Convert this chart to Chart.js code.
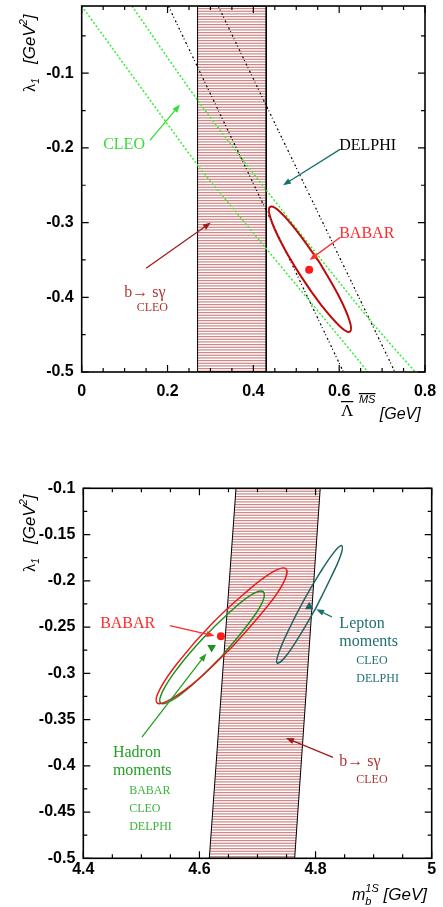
<!DOCTYPE html>
<html>
<head>
<meta charset="utf-8">
<title>lambda_1 constraints</title>
<script src="https://cdn.jsdelivr.net/npm/chart.js@4.4.1/dist/chart.umd.min.js"></script>
<style>
html, body { margin: 0; padding: 0; background: #fff; }
canvas { position: absolute; left: 0; }
</style>
</head>
<body>
<canvas id="topPanel" width="443" height="440" style="top:0"></canvas>
<canvas id="bottomPanel" width="443" height="467" style="top:440px"></canvas>
<script>
// ---------- top panel: lambda1 vs Lambda-bar (MS-bar) ----------
const topXTicks = [0, 0.2, 0.4, 0.6, 0.8];
const topYTicks = [-0.5, -0.4, -0.3, -0.2, -0.1];
const topXRange = [0, 0.8];
const topYRange = [-0.5, -0.01];

const bsgBandTopX = [0.27, 0.27, 0.43, 0.43, 0.27];
const bsgBandTopY = [-0.5, -0.01, -0.01, -0.5, -0.5];

const cleoLoX = [0, 0.270, 0.318, 0.606, 0.667];
const cleoLoY = [-0.01, -0.223, -0.257, -0.457, -0.5];
const cleoHiX = [0.117, 0.270, 0.431, 0.668, 0.777];
const cleoHiY = [-0.01, -0.136, -0.257, -0.428, -0.5];

const delphiLoX = [0.202, 0.610];
const delphiLoY = [-0.01, -0.5];
const delphiHiX = [0.318, 0.730];
const delphiHiY = [-0.01, -0.5];

// contour points read around the ellipse, starting on its long side
const babarTopX = [0.555, 0.505, 0.463, 0.439, 0.440, 0.466, 0.510, 0.559, 0.602, 0.625, 0.624, 0.598, 0.555];
const babarTopY = [-0.354, -0.314, -0.286, -0.279, -0.294, -0.328, -0.371, -0.411, -0.439, -0.446, -0.431, -0.397, -0.354];
const babarTopPoint = [0.530, -0.363];

// ---------- bottom panel: lambda1 vs m_b(1S) ----------
const botXTicks = [4.4, 4.6, 4.8, 5];
const botYTicks = [-0.5, -0.45, -0.4, -0.35, -0.3, -0.25, -0.2, -0.15, -0.1];
const botXRange = [4.4, 5];
const botYRange = [-0.5, -0.1];

const bsgBandBotX = [4.617, 4.663, 4.808, 4.764, 4.617];
const bsgBandBotY = [-0.5, -0.1, -0.1, -0.5, -0.5];

const hadBabarX = [4.657, 4.599, 4.551, 4.527, 4.532, 4.566, 4.619, 4.677, 4.725, 4.749, 4.744, 4.710, 4.657];
const hadBabarY = [-0.271, -0.306, -0.328, -0.332, -0.317, -0.286, -0.248, -0.214, -0.191, -0.187, -0.203, -0.233, -0.271];
const hadAllX = [4.638, 4.592, 4.553, 4.533, 4.537, 4.563, 4.605, 4.652, 4.690, 4.710, 4.707, 4.680, 4.638];
const hadAllY = [-0.282, -0.310, -0.329, -0.332, -0.319, -0.294, -0.263, -0.234, -0.215, -0.212, -0.225, -0.250, -0.282];
const leptonX = [4.800, 4.771, 4.747, 4.734, 4.736, 4.753, 4.779, 4.808, 4.832, 4.845, 4.843, 4.826, 4.800];
const leptonY = [-0.230, -0.261, -0.283, -0.289, -0.279, -0.254, -0.222, -0.191, -0.169, -0.162, -0.173, -0.197, -0.230];

const babarBotPoint = [4.637, -0.260];
const hadronPoint = [4.621, -0.272];
const leptonPoint = [4.789, -0.228];

const SERIF = '"Liberation Serif", "Times New Roman", serif';
const SANS = '"Liberation Sans", Arial, sans-serif';

function xy(xs, ys) {
    return xs.map((x, i) => ({ x: x, y: ys[i] }));
}

function hatch() {
    const c = document.createElement('canvas');
    c.width = 8; c.height = 8;
    const g = c.getContext('2d');
    g.fillStyle = '#fff';
    g.fillRect(0, 0, 8, 8);
    g.fillStyle = '#cf8585';
    for (let i = 0; i < 3; i++) g.fillRect(0, i * 8 / 3, 8, 1.2);
    return g.createPattern(c, 'repeat');
}

function curve(xs, ys, color, width, dash, tension) {
    return {
        data: xy(xs, ys), borderColor: color, borderWidth: width, borderDash: dash || [],
        pointRadius: 0, tension: tension || 0, fill: false, order: 5
    };
}

function band(xs, ys) {
    return {
        data: xy(xs, ys), borderColor: '#000', borderWidth: 1, pointRadius: 0,
        fill: 'shape', backgroundColor: hatch(), order: 10
    };
}

function marker(p, style, color, r, rot) {
    return {
        data: [{ x: p[0], y: p[1] }], showLine: false, pointStyle: style, pointRadius: r,
        pointRotation: rot || 0, pointBackgroundColor: color, pointBorderColor: color,
        pointBorderWidth: 0, order: 0
    };
}

function axes(xr, yr, xt, yt, yWidth, xHeight, xPad) {
    const font = { family: SANS, size: 16, weight: 'bold' };
    return {
        x: {
            type: 'linear', min: xr[0], max: xr[1],
            grid: { display: false, drawTicks: false }, border: { display: false },
            ticks: { font: font, color: '#000', padding: xPad, maxRotation: 0, autoSkip: false, callback: v => String(v) },
            afterBuildTicks: s => { s.ticks = xt.map(v => ({ value: v })); },
            afterFit: s => { s.height = xHeight; s.paddingLeft = 0; s.paddingRight = 0; }
        },
        y: {
            type: 'linear', min: yr[0], max: yr[1],
            grid: { display: false, drawTicks: false }, border: { display: false },
            ticks: { font: font, color: '#000', padding: 8, autoSkip: false, callback: v => String(v) },
            afterBuildTicks: s => { s.ticks = yt.map(v => ({ value: v })); },
            afterFit: s => { s.width = yWidth; s.paddingTop = 0; s.paddingBottom = 0; }
        }
    };
}

// text made of pieces (sub/superscripts, overlines)
function rich(ctx, x, y, parts, rot) {
    ctx.save();
    ctx.translate(x, y);
    if (rot) ctx.rotate(rot);
    ctx.textAlign = 'left';
    ctx.textBaseline = 'alphabetic';
    let cx = 0;
    parts.forEach(p => {
        ctx.font = p.f;
        ctx.fillStyle = p.c || '#000';
        const w = ctx.measureText(p.t).width;
        ctx.fillText(p.t, cx, p.dy || 0);
        if (p.bar) ctx.fillRect(cx, (p.dy || 0) - p.bar, w, 1.2);
        if (!p.stack) cx += w;
    });
    ctx.restore();
}

function arrow(ctx, chart, a, color) {
    const sx = chart.scales.x, sy = chart.scales.y;
    const x1 = sx.getPixelForValue(a[0]), y1 = sy.getPixelForValue(a[1]);
    const x2 = sx.getPixelForValue(a[2]), y2 = sy.getPixelForValue(a[3]);
    const ang = Math.atan2(y2 - y1, x2 - x1), L = 8, W = 3;
    const c = Math.cos(ang), s = Math.sin(ang);
    ctx.strokeStyle = color;
    ctx.fillStyle = color;
    ctx.lineWidth = 1.3;
    ctx.beginPath();
    ctx.moveTo(x1, y1);
    ctx.lineTo(x2 - L * 0.7 * c, y2 - L * 0.7 * s);
    ctx.stroke();
    ctx.beginPath();
    ctx.moveTo(x2, y2);
    ctx.lineTo(x2 - L * c + W * s, y2 - L * s - W * c);
    ctx.lineTo(x2 - L * c - W * s, y2 - L * s + W * c);
    ctx.closePath();
    ctx.fill();
}

function steps(lo, hi, st) {
    const out = [];
    for (let v = lo; v <= hi + 1e-9; v += st) out.push(+v.toFixed(4));
    return out;
}

function decor(p) {
    return {
        id: 'decor',
        afterDraw(chart) {
            const ctx = chart.ctx, a = chart.chartArea, sx = chart.scales.x, sy = chart.scales.y;
            const isMajor = (v, list) => list.some(t => Math.abs(t - v) < 1e-6);
            ctx.save();
            ctx.strokeStyle = '#000';
            ctx.lineWidth = 1.2;
            ctx.beginPath();
            p.xMinor.forEach(v => {
                const X = sx.getPixelForValue(v), L = isMajor(v, p.xTicks) ? 7 : 4;
                ctx.moveTo(X, a.bottom); ctx.lineTo(X, a.bottom - L);
                ctx.moveTo(X, a.top); ctx.lineTo(X, a.top + L);
            });
            p.yMinor.forEach(v => {
                const Y = sy.getPixelForValue(v), L = isMajor(v, p.yTicks) ? 7 : 4;
                ctx.moveTo(a.left, Y); ctx.lineTo(a.left + L, Y);
                ctx.moveTo(a.right, Y); ctx.lineTo(a.right - L, Y);
            });
            ctx.stroke();
            ctx.lineWidth = 1.6;
            ctx.strokeRect(a.left, a.top, a.right - a.left, a.bottom - a.top);

            p.arrows.forEach(ar => arrow(ctx, chart, ar.a, ar.c));
            ctx.textAlign = 'left';
            ctx.textBaseline = 'alphabetic';
            p.notes.forEach(n => {
                ctx.font = n.f;
                ctx.fillStyle = n.c;
                ctx.fillText(n.t, sx.getPixelForValue(n.x), sy.getPixelForValue(n.y));
            });
            p.titles(ctx);
            ctx.restore();
        }
    };
}

function makeChart(id, datasets, scales, pad, p) {
    return new Chart(document.getElementById(id), {
        type: 'line',
        data: { datasets: datasets },
        options: {
            responsive: false, animation: false, devicePixelRatio: 1, events: [],
            layout: { padding: pad },
            scales: scales,
            plugins: { legend: { display: false }, tooltip: { enabled: false } }
        },
        plugins: [decor(p)]
    });
}

const big = '16px ' + SERIF, small = '12px ' + SERIF;

// ----- top chart -----
makeChart('topPanel', [
    band(bsgBandTopX, bsgBandTopY),
    curve(cleoLoX, cleoLoY, '#33ee33', 1.5, [2, 2], 0.3),
    curve(cleoHiX, cleoHiY, '#33ee33', 1.5, [2, 2], 0.3),
    curve(delphiLoX, delphiLoY, '#000', 1.2, [2, 2, 1, 3]),
    curve(delphiHiX, delphiHiY, '#000', 1.2, [2, 2, 1, 3]),
    Object.assign(curve(babarTopX, babarTopY, '#c00a0a', 2, null, 0.4), { order: 3 }),
    marker(babarTopPoint, 'circle', '#ff1a1a', 4)
], axes(topXRange, topYRange, topXTicks, topYTicks, 81.7, 68, 10),
    { left: 0, top: 6, right: 18, bottom: 0 },
    {
        xTicks: topXTicks, yTicks: topYTicks,
        xMinor: steps(0, 0.8, 0.05), yMinor: steps(-0.5, -0.05, 0.05),
        arrows: [
            { a: [0.159, -0.190, 0.229, -0.142], c: '#33dd33' },
            { a: [0.602, -0.202, 0.469, -0.250], c: '#1a6e6e' },
            { a: [0.602, -0.320, 0.531, -0.350], c: '#ff2a2a' },
            { a: [0.150, -0.361, 0.301, -0.300], c: '#a01c1c' }
        ],
        notes: [
            { t: 'CLEO', x: 0.050, y: -0.202, c: '#33dd33', f: big },
            { t: 'DELPHI', x: 0.600, y: -0.203, c: '#000', f: big },
            { t: 'BABAR', x: 0.600, y: -0.321, c: '#ff2a2a', f: big },
            { t: 'b\u2192 s\u03b3', x: 0.099, y: -0.400, c: '#b03333', f: big },
            { t: 'CLEO', x: 0.128, y: -0.419, c: '#b03333', f: small }
        ],
        titles: ctx => {
            rich(ctx, 35, 92, [
                { t: '\u03bb', f: '17px ' + SERIF },
                { t: '1', f: 'italic 10px ' + SANS, dy: 4 },
                { t: '   [GeV', f: 'italic 17px ' + SANS },
                { t: '2', f: 'italic 11px ' + SANS, dy: -8 },
                { t: ']', f: 'italic 17px ' + SANS }
            ], -Math.PI / 2);
            rich(ctx, 341, 416, [
                { t: '\u039b', f: '17px ' + SERIF, bar: 15 },
                { t: '  ', f: '10px ' + SANS },
                { t: 'MS', f: 'italic 11px ' + SANS, dy: -13, bar: 10 },
                { t: ' ', f: '16px ' + SANS },
                { t: '[GeV]', f: 'italic 16px ' + SANS, dy: 3 }
            ]);
        }
    });

// ----- bottom chart -----
makeChart('bottomPanel', [
    band(bsgBandBotX, bsgBandBotY),
    Object.assign(curve(hadBabarX, hadBabarY, '#e51c1c', 1.5, null, 0.4), { order: 3 }),
    Object.assign(curve(hadAllX, hadAllY, '#1f8f1f', 1.5, null, 0.4), { order: 3 }),
    Object.assign(curve(leptonX, leptonY, '#1c6363', 1.5, null, 0.4), { order: 3 }),
    marker(babarBotPoint, 'circle', '#ff1a1a', 4),
    marker(hadronPoint, 'triangle', '#1f8f1f', 5, 180),
    marker(leptonPoint, 'triangle', '#1c6363', 5)
], axes(botXRange, botYRange, botXTicks, botYTicks, 83.3, 48.7, 2),
    { left: 0, top: 48.3, right: 11.3, bottom: 0 },
    {
        xTicks: botXTicks, yTicks: botYTicks,
        xMinor: steps(4.4, 5, 0.05), yMinor: steps(-0.5, -0.1, 0.025),
        arrows: [
            { a: [4.549, -0.2485, 4.626, -0.2594], c: '#ff2a2a' },
            { a: [4.501, -0.369, 4.612, -0.2786], c: '#23a023' },
            { a: [4.828, -0.239, 4.801, -0.2308], c: '#1f6e6e' },
            { a: [4.830, -0.391, 4.749, -0.370], c: '#a01c1c' }
        ],
        notes: [
            { t: 'BABAR', x: 4.429, y: -0.251, c: '#ff2a2a', f: big },
            { t: 'Lepton', x: 4.841, y: -0.251, c: '#1f7070', f: big },
            { t: 'moments', x: 4.841, y: -0.2705, c: '#1f7070', f: big },
            { t: 'CLEO', x: 4.870, y: -0.290, c: '#1f7070', f: small },
            { t: 'DELPHI', x: 4.870, y: -0.309, c: '#1f7070', f: small },
            { t: 'Hadron', x: 4.451, y: -0.3905, c: '#23a023', f: big },
            { t: 'moments', x: 4.451, y: -0.410, c: '#23a023', f: big },
            { t: 'BABAR', x: 4.479, y: -0.4305, c: '#3cb43c', f: small },
            { t: 'CLEO', x: 4.479, y: -0.450, c: '#3cb43c', f: small },
            { t: 'DELPHI', x: 4.479, y: -0.4694, c: '#3cb43c', f: small },
            { t: 'b\u2192 s\u03b3', x: 4.841, y: -0.400, c: '#b03333', f: big },
            { t: 'CLEO', x: 4.870, y: -0.419, c: '#b03333', f: small }
        ],
        titles: ctx => {
            rich(ctx, 35, 132, [
                { t: '\u03bb', f: '17px ' + SERIF },
                { t: '1', f: 'italic 10px ' + SANS, dy: 4 },
                { t: '   [GeV', f: 'italic 17px ' + SANS },
                { t: '2', f: 'italic 11px ' + SANS, dy: -8 },
                { t: ']', f: 'italic 17px ' + SANS }
            ], -Math.PI / 2);
            rich(ctx, 352, 460, [
                { t: 'm', f: 'italic 16px ' + SANS },
                { t: 'b', f: 'italic 11px ' + SANS, dy: 5, stack: true },
                { t: '1S', f: 'italic 11px ' + SANS, dy: -8 },
                { t: ' [GeV]', f: 'italic 17px ' + SANS }
            ]);
        }
    });
</script>
</body>
</html>
